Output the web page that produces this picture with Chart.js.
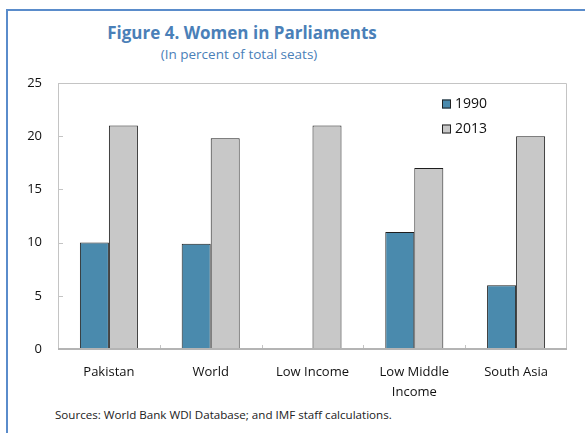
<!DOCTYPE html>
<html>
<head>
<meta charset="utf-8">
<script src="https://cdn.jsdelivr.net/npm/chart.js@4/dist/chart.umd.min.js"></script>
<style>
  html, body { margin: 0; padding: 0; background: #fff; }
  #wrap { position: relative; width: 585px; height: 433px; overflow: hidden; }
  #frameTop { position: absolute; left: 6px; top: 9px; width: 600px; height: 2px; background: #5a8ccb; }
  #frameLeft { position: absolute; left: 6px; top: 9px; width: 2px; height: 430px; background: #5a8ccb; }
  #title { position: absolute; left: 0; width: 484px; top: 21px; text-align: center;
           font: bold 17px "Open Sans", sans-serif; color: #4a80b8; }
  #subtitle { position: absolute; left: 0; width: 478px; top: 45px; text-align: center;
           font: 13.5px "Open Sans", sans-serif; color: #4a80b8; }
  #source { position: absolute; left: 55px; top: 407px; font: 11.6px "Open Sans", sans-serif; color: #222; }
  canvas { position: absolute; left: 0; top: 0; }
</style>
</head>
<body>
<div id="wrap">
  <div id="frameTop"></div>
  <div id="frameLeft"></div>
  <div id="title">Figure 4. Women in Parliaments</div>
  <div id="subtitle">(In percent of total seats)</div>
  <div id="source">Sources: World Bank WDI Database; and IMF staff calculations.</div>
  <canvas id="c" width="585" height="433"></canvas>
</div>
<script>
const categories = ["Pakistan", "World", "Low Income", ["Low Middle", "Income"], "South Asia"];
const seriesNames = ["1990", "2013"];
const values1990 = [10, 9.9, null, 11, 6];
const values2013 = [21, 19.8, 21, 17, 20];
const yTicks = [0, 5, 10, 15, 20, 25];

const PLOT_L = 58, PLOT_T = 83, PLOT_R = 567, PLOT_B = 349;

const decor = {
  id: 'decor',
  afterDatasetsDraw(chart) {
    const ctx = chart.ctx, a = chart.chartArea;
    const y = chart.scales.y, x = chart.scales.x;
    ctx.save();
    ctx.strokeStyle = '#c4c4c4';
    ctx.lineWidth = 1;
    ctx.beginPath();
    ctx.moveTo(a.left + 0.5, a.bottom);
    ctx.lineTo(a.left + 0.5, a.top + 0.5);
    ctx.lineTo(a.right - 0.5, a.top + 0.5);
    ctx.lineTo(a.right - 0.5, a.bottom);
    ctx.stroke();
    yTicks.forEach(v => {
      const py = Math.round(y.getPixelForValue(v)) + 0.5;
      ctx.beginPath();
      ctx.moveTo(a.left, py);
      ctx.lineTo(a.left + 5, py);
      ctx.stroke();
    });
    for (let i = 1; i < categories.length; i++) {
      const px = Math.round((x.getPixelForValue(i - 1) + x.getPixelForValue(i)) / 2) + 0.5;
      ctx.beginPath();
      ctx.moveTo(px, a.bottom);
      ctx.lineTo(px, a.bottom - 4);
      ctx.stroke();
    }
    ctx.strokeStyle = '#b4b4b4';
    ctx.lineWidth = 2;
    ctx.beginPath();
    ctx.moveTo(a.left, a.bottom);
    ctx.lineTo(a.right, a.bottom);
    ctx.stroke();
    ctx.font = '14px "Open Sans", sans-serif';
    ctx.textBaseline = 'middle';
    chart.data.datasets.forEach((ds, i) => {
      const cy = 104 + i * 25;
      ctx.fillStyle = ds.backgroundColor;
      ctx.fillRect(442, cy - 4.5, 9, 9);
      ctx.strokeStyle = '#222';
      ctx.lineWidth = 1;
      ctx.strokeRect(442.5, cy - 4, 8, 8);
      ctx.fillStyle = '#111';
      ctx.fillText(ds.label, 455, cy);
    });
    ctx.restore();
  }
};

new Chart(document.getElementById('c'), {
  type: 'bar',
  data: {
    labels: categories,
    datasets: [
      { label: seriesNames[0], data: values1990, backgroundColor: '#4a8aad', borderColor: '#1e1e1e', borderWidth: 1, borderSkipped: 'start' },
      { label: seriesNames[1], data: values2013, backgroundColor: '#c8c8c8', borderColor: '#1e1e1e', borderWidth: 1, borderSkipped: 'start' }
    ]
  },
  options: {
    responsive: false,
    animation: false,
    devicePixelRatio: 1,
    layout: { padding: { left: 0, top: PLOT_T, right: 585 - PLOT_R, bottom: 0 } },
    plugins: { legend: { display: false }, tooltip: { enabled: false }, title: { display: false } },
    datasets: { bar: { categoryPercentage: 0.57, barPercentage: 1.0 } },
    scales: {
      x: {
        grid: { display: false, drawTicks: false },
        border: { display: false },
        ticks: { color: '#111', font: { family: '"Open Sans", sans-serif', size: 13, lineHeight: 1.5 }, padding: 14, maxRotation: 0, autoSkip: false },
        afterFit(s) { s.height = 433 - PLOT_B; }
      },
      y: {
        min: 0, max: 25,
        afterBuildTicks(s) { s.ticks = yTicks.map(v => ({ value: v })); },
        grid: { display: false, drawTicks: false },
        border: { display: false },
        ticks: { color: '#111', font: { family: '"Open Sans", sans-serif', size: 13 }, padding: 16 },
        afterFit(s) { s.width = PLOT_L; }
      }
    }
  },
  plugins: [decor]
});
</script>
</body>
</html>
